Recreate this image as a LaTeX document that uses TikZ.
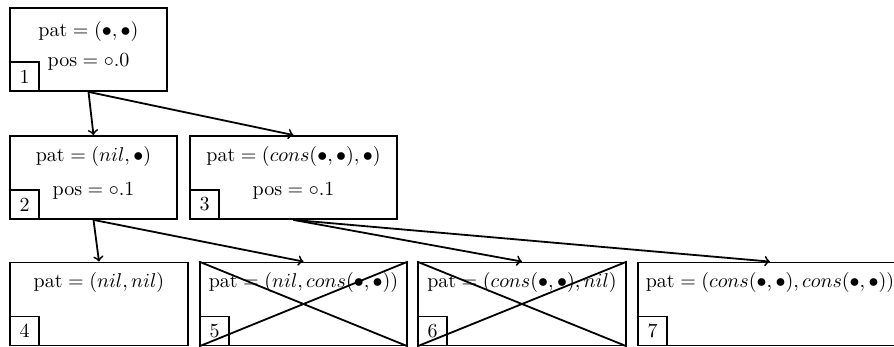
\documentclass[tikz,border=0pt]{standalone}
\usepackage{amsmath, amssymb}
\usepackage{tikz}

\begin{document}
\begin{tikzpicture}[x=0.5pt, y=-0.5pt, line width=0.9pt,
  patbox/.style={draw, inner sep=0pt, minimum height=41.5pt},
  numbox/.style={draw, inner sep=0pt, minimum size=14.5pt, anchor=south west}]
  \useasboundingbox (0,0) rectangle (894,347);
  \clip (0,0) rectangle (894,347);
  % level 0
  \node[patbox, minimum width=78.5pt] (b1) at (88.5,49.5) {};
  \node[numbox] (n1) at (b1.south west) {1};
  \node (p1) at (88.5,32) {$\text{pat} = (\bullet, \bullet)$};
  \node (q1) at (88.5,62) {$\text{pos} = \circ.0$};
  % level 1
  \node[patbox, minimum width=83.5pt] (b2) at (93.5,177.5) {};
  \node[numbox] (n2) at (b2.south west) {2};
  \node (p2) at (93.5,157) {$\text{pat} = (nil, \bullet)$};
  \node (q2) at (93.5,191) {$\text{pos} = \circ.1$};
  \node[patbox, minimum width=103.5pt] (b3) at (293.5,177.5) {};
  \node[numbox] (n3) at (b3.south west) {3};
  \node (p3) at (293.5,157) {$\text{pat} = (cons(\bullet, \bullet), \bullet)$};
  \node (q3) at (293.5,191) {$\text{pos} = \circ.1$};
  % level 2
  \node[patbox, minimum width=89pt] (b4) at (99,304) {};
  \node[numbox] (n4) at (b4.south west) {4};
  \node (p4) at (99,282) {$\text{pat} = (nil, nil)$};
  \node[patbox, minimum width=103.5pt] (b5) at (303.5,304) {};
  \node[numbox] (n5) at (b5.south west) {5};
  \node (p5) at (303.5,282) {$\text{pat} = (nil, cons(\bullet, \bullet))$};
  \node[patbox, minimum width=104pt] (b6) at (522,304) {};
  \node[numbox] (n6) at (b6.south west) {6};
  \node (p6) at (522,282) {$\text{pat} = (cons(\bullet, \bullet), nil)$};
  \node[patbox, minimum width=132pt] (b7) at (770,304) {};
  \node[numbox] (n7) at (b7.south west) {7};
  \node (p7) at (770,282) {$\text{pat} = (cons(\bullet, \bullet), cons(\bullet, \bullet))$};
  % crossed out
  \draw (b5.north west) -- (b5.south east);
  \draw (b5.south west) -- (b5.north east);
  \draw (b6.north west) -- (b6.south east);
  \draw (b6.south west) -- (b6.north east);
  % edges
  \draw[->] (b1.south) -- (b2.north);
  \draw[->] (b1.south) -- (b3.north);
  \draw[->] (b2.south) -- (b4.north);
  \draw[->] (b2.south) -- (b5.north);
  \draw[->] (b3.south) -- (b6.north);
  \draw[->] (b3.south) -- (b7.north);
\end{tikzpicture}
\end{document}
